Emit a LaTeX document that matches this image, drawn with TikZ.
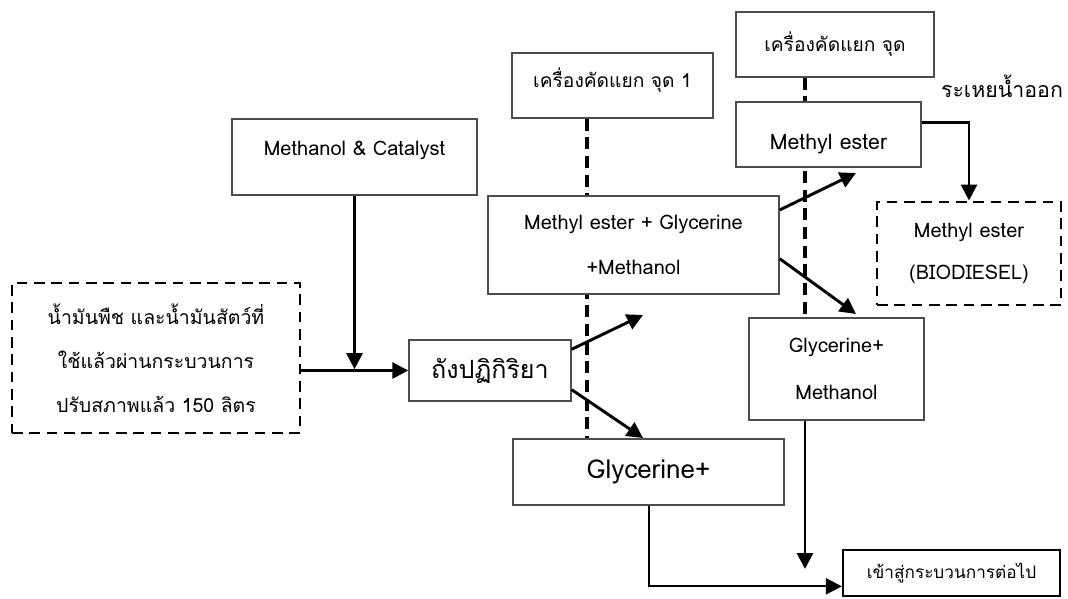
\documentclass[tikz,border=0pt]{standalone}
\usepackage{fontspec}
\setmainfont[Script=Thai]{Loma}
\usetikzlibrary{arrows.meta, backgrounds}
\tikzset{>={Triangle[length=12pt,width=12pt]}}
\tikzset{
  box/.style={draw=black!70, fill=white, line width=1.1pt, align=center, inner sep=0pt, font=\fontsize{15}{34}\selectfont},
  dbox/.style={box, draw=black, line width=2.2pt, dash pattern=on 8pt off 5pt},
  flow/.style={->, line width=2.2pt},
  sepline/.style={line width=2.4pt, dash pattern=on 9pt off 5pt}
}

\begin{document}
\begin{tikzpicture}[x=0.75pt, y=-0.75pt]
    \useasboundingbox (0,0) rectangle (1068,599);
    \node[dbox, minimum width=216pt, minimum height=112.5pt, font=\fontsize{14.6}{33}\selectfont] (oil) at (156,358)
        {น้ำมันพืช และน้ำมันสัตว์ที่\\ใช้แล้วผ่านกระบวนการ\\ปรับสภาพแล้ว 150 ลิตร};
    \node[box, minimum width=183.75pt, minimum height=57pt, text depth=13pt] (cat) at (354.5,157) {Methanol \& Catalyst};
    \node[box, minimum width=121.5pt, minimum height=45.75pt, font=\fontsize{18.8}{22}\selectfont] (tank) at (490,370.5) {ถังปฏิกิริยา};
    \node[box, minimum width=150.75pt, minimum height=48.75pt, font=\fontsize{14.4}{17}\selectfont, text depth=12pt] (sepa) at (612.5,85.5) {เครื่องคัดแยก จุด 1};
    \node[box, minimum width=218.25pt, minimum height=73.5pt] (mix) at (633.5,245) {Methyl ester + Glycerine\\+Methanol};
    \node[box, minimum width=148.5pt, minimum height=48.75pt, font=\fontsize{14.4}{17}\selectfont] (sepb) at (835,44.5) {เครื่องคัดแยก จุด};
    \node[box, minimum width=138.75pt, minimum height=48.75pt, font=\fontsize{16}{19}\selectfont, text height=26pt] (ester) at (828.5,134.5) {Methyl ester};
    \node[dbox, minimum width=138pt, minimum height=77.25pt, font=\fontsize{15}{32}\selectfont] (bio) at (969,253.5) {Methyl ester\\(BIODIESEL)};
    \node[box, minimum width=131.25pt, minimum height=76.5pt, font=\fontsize{15}{35}\selectfont] (glym) at (836.5,369) {Glycerine+\\Methanol};
    \node[box, minimum width=203.25pt, minimum height=49.5pt, font=\fontsize{19.5}{23}\selectfont] (gly) at (648.5,472) {Glycerine+};
    \node[box, draw=black, line width=1.6pt, font=\fontsize{12.9}{15}\selectfont, minimum width=162.75pt, minimum height=34.5pt] (next) at (951.5,573) {เข้าสู่กระบวนการต่อไป};
    \node[font=\fontsize{16}{19}\selectfont] (dry) at (1002,86) {ระเหยน้ำออก};

    \coordinate (da) at (587,0);
    \coordinate (db) at (805,0);
    \coordinate (ta) at (643,315);
    \coordinate (tb) at (643,438);
    \coordinate (ma) at (856,173);
    \coordinate (mb) at (856,314);

    \begin{scope}[on background layer]
    \draw[sepline] (da |- sepa.south) -- (da |- gly.north);
    \draw[sepline] (db |- sepb.south) -- (db |- glym.north);
    \end{scope}

    \draw[flow] (tank.west -| oil.east) -- (tank.west);
    \draw[flow] (cat.south) -- ([yshift=1pt]cat.south |- tank.west);
    \draw[flow] ([yshift=-7.5pt]tank.north east) -- (ta);
    \draw[flow] ([yshift=9pt]tank.south east) -- (tb);
    \draw[flow] ([yshift=-11pt]mix.north east) -- (ma);
    \draw[flow] ([yshift=27pt]mix.south east) -- (mb);
    \draw[flow] ([yshift=9pt]ester.east) -| (bio.north);
    \draw[flow] (db |- glym.south) -- ([yshift=3pt]db |- next.west);
    \draw[flow, line width=1.5pt] (gly.south) |- ([yshift=-10pt]next.west);
\end{tikzpicture}
\end{document}
